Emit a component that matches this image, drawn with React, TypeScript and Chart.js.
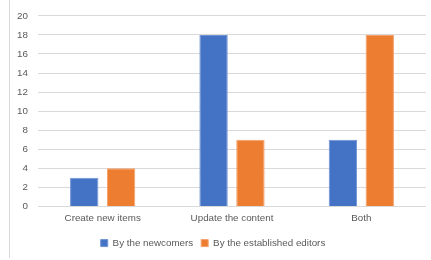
import React, { useEffect, useRef } from "react";
import { Chart, registerables } from "chart.js";

Chart.register(...registerables);

const categories = ["Create new items", "Update the content", "Both"];
const newcomers = [3, 18, 7];
const established = [4, 7, 18];
const seriesNames = ["By the newcomers", "By the established editors"];

const leftLine = {
  id: "leftLine",
  afterDraw(chart: any) {
    const ctx = chart.ctx;
    ctx.save();
    ctx.strokeStyle = "#d9d9d9";
    ctx.lineWidth = 1;
    ctx.beginPath();
    ctx.moveTo(9.5, 0);
    ctx.lineTo(9.5, 258);
    ctx.stroke();
    ctx.restore();
  },
};

export default function App() {
  const ref = useRef<HTMLCanvasElement | null>(null);
  useEffect(() => {
    document.body.style.margin = "0";
    const font = { family: "'Liberation Sans', Arial, sans-serif", size: 9.8 };
    const chart = new Chart(ref.current!, {
      type: "bar",
      data: {
        labels: categories,
        datasets: [
          {
            label: seriesNames[0],
            data: newcomers,
            backgroundColor: "#4472C4",
            borderColor: "#6f93d6",
            borderWidth: 1,
            categoryPercentage: 0.57,
            barPercentage: 0.77,
          },
          {
            label: seriesNames[1],
            data: established,
            backgroundColor: "#ED7D31",
            borderColor: "#f4a06a",
            borderWidth: 1,
            categoryPercentage: 0.57,
            barPercentage: 0.77,
          },
        ],
      },
      options: {
        animation: false,
        responsive: false,
        maintainAspectRatio: false,
        layout: { padding: { left: 0, right: 5, top: 11, bottom: 2 } },
        plugins: {
          tooltip: { enabled: false },
          legend: {
            position: "bottom",
            labels: {
              boxWidth: 7,
              boxHeight: 7,
              padding: 8,
              color: "#595959",
              font,
            },
          },
        },
        scales: {
          x: {
            grid: { display: false, drawTicks: false, tickLength: 0 },
            border: { display: false },
            ticks: { color: "#595959", font, padding: 6 },
          },
          y: {
            min: 0,
            max: 20,
            ticks: { stepSize: 2, color: "#595959", font, padding: 10 },
            grid: { color: "#d9d9d9", drawTicks: false },
            border: { display: false },
            afterFit(scale: any) {
              scale.width = 38;
            },
          },
        },
      },
      plugins: [leftLine],
    });
    return () => chart.destroy();
  }, []);
  return <canvas ref={ref} width={431} height={260} style={{ display: "block" }} />;
}
